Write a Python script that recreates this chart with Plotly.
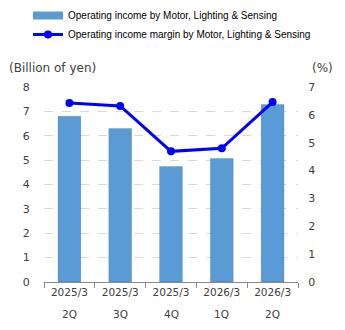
import plotly.graph_objects as go

periods = ["2025/3", "2025/3", "2025/3", "2026/3", "2026/3"]
quarters = ["2Q", "3Q", "4Q", "1Q", "2Q"]
income = [6.80, 6.30, 4.74, 5.07, 7.28]
margin = [6.43, 6.32, 4.69, 4.80, 6.46]

cats = [f"{p} {q}" for p, q in zip(periods, quarters)]
bar_name = "Operating income by Motor, Lighting & Sensing"
line_name = "Operating income margin by Motor, Lighting & Sensing"

TXT = "#404040"
FONT = "DejaVu Sans"
LEG_FONT = "Liberation Sans, Arial, sans-serif"
BAR_COLOR = "#5B9BD5"

fig = go.Figure()
fig.add_trace(go.Bar(
    x=cats, y=income, name=bar_name, showlegend=False,
    marker=dict(color=BAR_COLOR, line=dict(width=1, color="rgba(0,0,0,0.12)")),
    width=0.45, yaxis="y",
))
# legend swatch for the bars (wide rectangle like the reference)
fig.add_trace(go.Scatter(
    x=[None], y=[None], name=bar_name, mode="lines",
    line=dict(color=BAR_COLOR, width=8), yaxis="y",
))
fig.add_trace(go.Scatter(
    x=cats, y=margin, name=line_name,
    mode="lines+markers", line=dict(color="#0000FF", width=3),
    marker=dict(color="#0000FF", size=8), yaxis="y2",
))

PH = 195.0
PW = 254.0
annotations = [
    dict(text="(Billion of yen)", xref="paper", yref="paper", x=-37/PW, y=1 + 19/PH,
         xanchor="left", yanchor="middle", showarrow=False, font=dict(family=FONT, size=12, color=TXT)),
    dict(text="(%)", xref="paper", yref="paper", x=1 + 12/PW, y=1 + 19/PH,
         xanchor="left", yanchor="middle", showarrow=False, font=dict(family=FONT, size=12, color=TXT)),
]
for i, q in enumerate(quarters):
    annotations.append(dict(text=q, x=(i + 0.5) / len(quarters), xref="paper", yref="paper", y=-32/PH,
                            xanchor="center", yanchor="middle", showarrow=False,
                            font=dict(family=FONT, size=10.5, color=TXT)))

fig.update_layout(
    width=345, height=330,
    margin=dict(l=44, r=47, t=87, b=48, pad=0, autoexpand=False),
    paper_bgcolor="white", plot_bgcolor="white",
    showlegend=True,
    legend=dict(x=-16/PW, y=1 + 86/PH,
                xanchor="left", yanchor="top", orientation="v",
                font=dict(family=LEG_FONT, size=10, color="#000000"),
                bgcolor="rgba(0,0,0,0)", tracegroupgap=0),
    xaxis=dict(
        type="category", tickmode="array", tickvals=cats, ticktext=periods,
        showline=True, linecolor="#898989", linewidth=1,
        ticks="outside", tickson="boundaries", ticklen=5, tickcolor="#898989",
        tickfont=dict(family=FONT, size=10.5, color=TXT), showgrid=False,
    ),
    yaxis=dict(
        range=[0, 8], dtick=1, showgrid=True, gridcolor="#D9D9D9", griddash="dash",
        zeroline=False, showline=False, ticks="outside", ticklen=11, tickcolor="rgba(0,0,0,0)",
        tickfont=dict(family=FONT, size=11, color=TXT),
    ),
    yaxis2=dict(
        range=[0, 7], dtick=1, overlaying="y", side="right", showgrid=False,
        zeroline=False, showline=False, ticks="outside", ticklen=7, tickcolor="rgba(0,0,0,0)",
        tickfont=dict(family=FONT, size=11, color=TXT),
    ),
    annotations=annotations,
)

fig.write_html("out.html")
